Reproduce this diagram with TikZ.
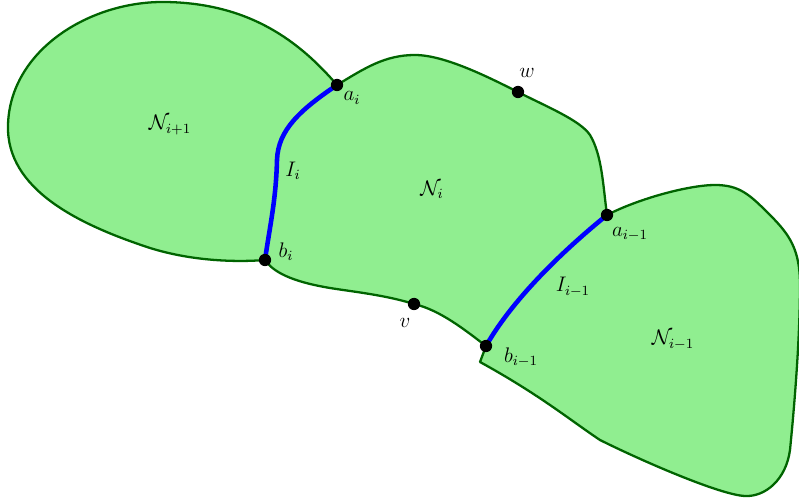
\documentclass[tikz,border=0pt]{standalone}
\usepackage{xcolor}
\usepackage{tikz}
\definecolor{ltgreen}{RGB}{144, 238, 144}
\definecolor{dkgreen}{RGB}{0, 100, 0}

\begin{document}
\begin{tikzpicture}[
    x=0.02cm, y=-0.02cm,
    region/.style={draw=dkgreen, fill=ltgreen, line width=1.3pt, line join=round},
    iface/.style={draw=blue, line width=2.6pt, line cap=round},
    vtx/.style={circle, fill=black, inner sep=0pt, minimum size=7pt},
    lbl/.style={font=\large, inner sep=0pt}
  ]
  \useasboundingbox (0,0) rectangle (799,503);

  \coordinate (ai) at (337,85);
  \coordinate (bi) at (265,260);
  \coordinate (aim) at (607,215);
  \coordinate (bim) at (486,346);
  \coordinate (w) at (518,92);
  \coordinate (v) at (414,304);

  % regions
  \path[region] (ai) .. controls (300,42) and (250,3) .. (165,2)
    .. controls (90,1) and (10,50) .. (8,125)
    .. controls (6,190) and (80,225) .. (150,248)
    .. controls (195,262) and (240,262) .. (bi)
    .. controls (270,225) and (276,200) .. (277,160)
    .. controls (278,130) and (300,110) .. (ai) -- cycle;

  \path[region] (ai) .. controls (365,68) and (385,55) .. (415,55)
    .. controls (445,55) and (490,78) .. (w)
    .. controls (545,106) and (580,120) .. (590,135)
    .. controls (602,155) and (603,185) .. (aim)
    .. controls (570,245) and (515,295) .. (bim)
    .. controls (465,330) and (440,310) .. (v)
    .. controls (385,295) and (355,292) .. (330,288)
    .. controls (300,283) and (275,275) .. (bi)
    .. controls (270,225) and (276,200) .. (277,160)
    .. controls (278,130) and (300,110) .. (ai) -- cycle;

  \path[region] (aim) .. controls (640,198) and (690,185) .. (715,185)
    .. controls (740,185) and (750,195) .. (770,215)
    .. controls (790,235) and (800,250) .. (800,285)
    .. controls (800,335) and (795,400) .. (790,450)
    .. controls (786,480) and (765,497) .. (745,496)
    .. controls (720,495) and (640,460) .. (600,440)
    .. controls (570,420) and (540,395) .. (480,362)
    -- (bim)
    .. controls (515,295) and (570,245) .. (aim) -- cycle;

  % interfaces
  \draw[iface] (bi) .. controls (270,225) and (276,200) .. (277,160)
    .. controls (278,130) and (300,110) .. (ai);
  \draw[iface] (aim) .. controls (570,245) and (515,295) .. (bim);

  \node[vtx] (Pai) at (ai) {};
  \node[vtx] (Pbi) at (bi) {};
  \node[vtx] (Paim) at (aim) {};
  \node[vtx] (Pbim) at (bim) {};
  \node[vtx] (Pw) at (w) {};
  \node[vtx] (Pv) at (v) {};

  \node[lbl] (Nip) at (170,125) {$\mathcal{N}_{i+1}$};
  \node[lbl] (Ni) at (432,190) {$\mathcal{N}_{i}$};
  \node[lbl] (Nim) at (673,340) {$\mathcal{N}_{i-1}$};
  \node[lbl] (Ii) at (293,171) {$I_i$};
  \node[lbl] (Iim) at (573,287) {$I_{i-1}$};
  \node[lbl] (lai) at (352,98) {$a_i$};
  \node[lbl] (lbi) at (286,252) {$b_i$};
  \node[lbl] (lw) at (527,73) {$w$};
  \node[lbl] (lv) at (405,323) {$v$};
  \node[lbl] (laim) at (630,234) {$a_{i-1}$};
  \node[lbl] (lbim) at (521,357) {$b_{i-1}$};
\end{tikzpicture}
\end{document}
